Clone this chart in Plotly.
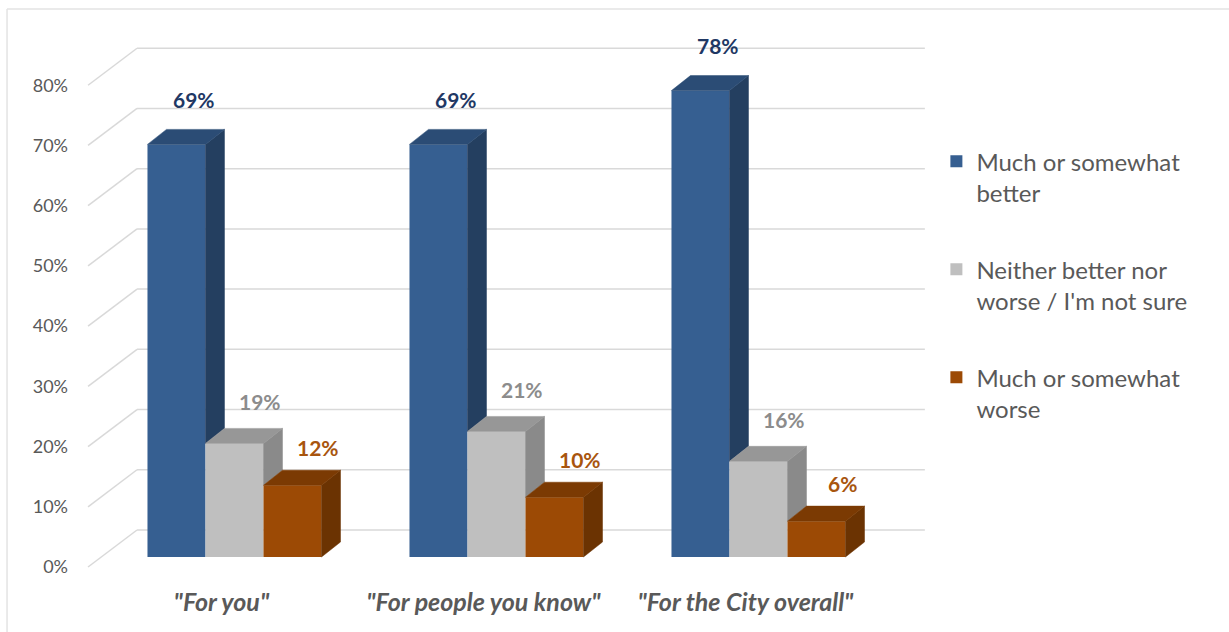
import plotly.graph_objects as go

# ---------------- data ----------------
categories = ['"For you"', '"For people you know"', '"For the City overall"']
series_names = [
    "Much or somewhat<br>better",
    "Neither better nor<br>worse / I'm not sure",
    "Much or somewhat<br>worse",
]
better = [0.69, 0.69, 0.78]
neither = [0.19, 0.21, 0.16]
worse = [0.12, 0.10, 0.06]
y_ticks = [0.0, 0.1, 0.2, 0.3, 0.4, 0.5, 0.6, 0.7, 0.8]
y_tick_labels = ["0%", "10%", "20%", "30%", "40%", "50%", "60%", "70%", "80%"]

# ---------------- styles ----------------
series = [better, neither, worse]
front_colors = ["#365F91", "#BFBFBF", "#9C4A05"]
side_colors = ["#243F60", "#8A8A8A", "#6B3302"]
top_colors = ["#2B4C75", "#979797", "#7B3A03"]
label_colors = ["#1F3864", "#8C8C8C", "#A8550E"]
FONT = "Lato, Calibri, sans-serif"
TEXT_GREY = "#595959"

BW = 0.2214      # bar width (category units)
DX = 0.0725      # 3D depth offset, x
DY = 0.0251      # 3D depth offset, y
label_dx = [0.0687, 0.0992, 0.0992]
label_dy = [0.0753, 0.0700, 0.0635]

GRID_FRONT_X, GRID_BACK_X, GRID_RIGHT_X = -0.559, -0.372, 2.635
def grid_front(v):
    return -0.0167 + 1.007 * v
def grid_back(v):
    return 0.0452 + 1.007 * v

fig = go.Figure()
annotations = []

n_series = len(series)
for k, vals in enumerate(series):
    xs = [i + (k - 1) * BW for i in range(len(categories))]
    fig.add_trace(go.Bar(
        x=xs, y=vals, width=BW, name=series_names[k],
        marker=dict(color=front_colors[k], line=dict(width=0)),
        legendgroup=str(k), hoverinfo="skip",
    ))
    # side and top faces derived from the values
    sx, sy, tx, ty = [], [], [], []
    for i, v in enumerate(vals):
        x0 = xs[i] - BW / 2
        x1 = xs[i] + BW / 2
        lower = series[k + 1][i] if k + 1 < n_series else 0.0
        sx += [x1, x1, x1 + DX, x1 + DX, x1, None]
        sy += [lower, v, v + DY, lower + DY, lower, None]
        tx += [x0, x1, x1 + DX, x0 + DX, x0, None]
        ty += [v, v, v + DY, v + DY, v, None]
        annotations.append(dict(
            x=xs[i] + label_dx[k], y=v + label_dy[k], xref="x", yref="y",
            text=f"{round(v * 100)}%", showarrow=False,
            font=dict(family=FONT, size=21, color=label_colors[k], weight="bold"),
        ))
    fig.add_trace(go.Scatter(
        x=sx, y=sy, mode="lines", fill="toself", fillcolor=side_colors[k],
        line=dict(color=side_colors[k], width=0.5), showlegend=False,
        hoverinfo="skip", legendgroup=str(k),
    ))
    fig.add_trace(go.Scatter(
        x=tx, y=ty, mode="lines", fill="toself", fillcolor=top_colors[k],
        line=dict(color=top_colors[k], width=0.5), showlegend=False,
        hoverinfo="skip", legendgroup=str(k),
    ))

shapes = []
for v in y_ticks:
    shapes.append(dict(type="line", xref="x", yref="y", layer="below",
                       x0=GRID_FRONT_X, y0=grid_front(v), x1=GRID_BACK_X, y1=grid_back(v),
                       line=dict(color="#D9D9D9", width=1.5)))
    shapes.append(dict(type="line", xref="x", yref="y", layer="below",
                       x0=GRID_BACK_X, y0=grid_back(v), x1=GRID_RIGHT_X, y1=grid_back(v),
                       line=dict(color="#D9D9D9", width=1.5)))
# outer frame (top and left edges)
shapes.append(dict(type="line", xref="paper", yref="paper", x0=-0.0833, x1=1.36,
                   y0=1.0195, y1=1.0195, line=dict(color="#E3E3E3", width=1.5)))
shapes.append(dict(type="line", xref="paper", yref="paper", x0=-0.0833, x1=-0.0833,
                   y0=1.0195, y1=-0.09, line=dict(color="#E3E3E3", width=1.5)))

fig.update_layout(
    width=1229, height=632,
    margin=dict(l=78, r=299, t=20, b=47),
    paper_bgcolor="white", plot_bgcolor="white",
    barmode="overlay",
    shapes=shapes, annotations=annotations,
    font=dict(family=FONT, color=TEXT_GREY),
    showlegend=True,
    legend=dict(
        x=1.0075, xanchor="left", y=0.7889, yanchor="top",
        font=dict(family=FONT, size=24, color=TEXT_GREY),
        valign="top", tracegroupgap=42.5, traceorder="grouped",
        bgcolor="rgba(0,0,0,0)",
    ),
    xaxis=dict(
        range=[-0.5973, 2.6546], tickmode="array",
        tickvals=[i - 0.05 for i in range(len(categories))], ticktext=categories,
        showgrid=False, zeroline=False, showline=False, ticks="",
        tickfont=dict(family=FONT, size=25, color=TEXT_GREY, weight="bold", style="italic"),
        fixedrange=True,
    ),
    yaxis=dict(
        range=[-0.0468, 0.898], tickmode="array",
        tickvals=[grid_front(v) for v in y_ticks], ticktext=y_tick_labels,
        showgrid=False, zeroline=False, showline=False, ticks="",
        tickfont=dict(family=FONT, size=18, color=TEXT_GREY),
        ticklabelstandoff=9, fixedrange=True,
    ),
)

fig.write_html("out.html", config={"displayModeBar": False},
               post_script="document.body.style.margin='0px';")
